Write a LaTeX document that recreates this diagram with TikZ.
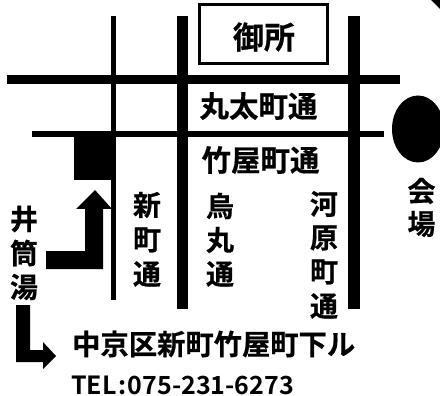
\documentclass[tikz,border=0pt]{standalone}
\usepackage{fontspec}
\newfontfamily\cjk{Noto Sans CJK JP Bold}[FakeBold=0.6]
\newfontfamily\latn{Noto Sans CJK JP Bold}
\begin{document}
\begin{tikzpicture}[x=1pt,y=-1pt,
  txt/.style={font=\cjk\fontsize{#1}{#1}\selectfont,inner sep=0pt,anchor=center},
  blk/.style={fill=black,draw=none}]
\useasboundingbox (0,0) rectangle (440,396);
\clip (0,0) rectangle (440,396);
\fill[blk] (111,16) rectangle (116,300);
\fill[blk] (176.5,16.5) rectangle (188,309);
\fill[blk] (348,16.5) rectangle (359.7,309);
\fill[blk] (7,75) rectangle (400,84.5);
\fill[blk] (32,131) rectangle (384,137);
\fill[blk] (73.5,137) rectangle (116,180.5);
\node[draw,line width=2.6pt,minimum width=128pt,minimum height=59pt,inner sep=0pt] (gosho) at (263.5,34.2) {};
\node[txt=31] at (264,37) {御所};
\fill[blk] (418,129) ellipse [x radius=26,y radius=33.5];
\fill[blk] (431,0) -- (440,9) -- (440,0) -- cycle;
\fill[blk] (46,251) -- (85,251) -- (85,209) -- (76,209) -- (95,190) -- (112,209) -- (103,209) -- (103,269) -- (46,269) -- cycle;
\fill[blk] (16,305) -- (30,305) -- (30,350) -- (43,350) -- (43,342) -- (56,356) -- (43,369) -- (43,362) -- (16,362) -- cycle;
\node[txt=29.5] at (258.5,106) {丸太町通};
\node[txt=29.5] at (260.5,160) {竹屋町通};
\foreach \c/\yy in {新/205,町/240,通/274}{\node[txt=28] at (147,\yy) {\c};}
\foreach \c/\yy in {烏/206,丸/240,通/274}{\node[txt=28] at (220,\yy) {\c};}
\foreach \c/\yy in {河/204,原/238,町/272,通/306}{\node[txt=28] at (324,\yy) {\c};}
\foreach \c/\yy in {会/191,場/224}{\node[txt=28] at (421.5,\yy) {\c};}
\foreach \c/\yy in {井/219,筒/253,湯/287}{\node[txt=28] at (24,\yy) {\c};}
\node[txt=28.3,anchor=west] at (72,344) {中京区新町竹屋町下ル};
\node[anchor=west,inner sep=0pt,font=\latn\fontsize{25}{25}\selectfont] at (71,385) {TEL\hspace{1.5pt}:\hspace{1.5pt}075-231-6273};
\end{tikzpicture}
\end{document}
